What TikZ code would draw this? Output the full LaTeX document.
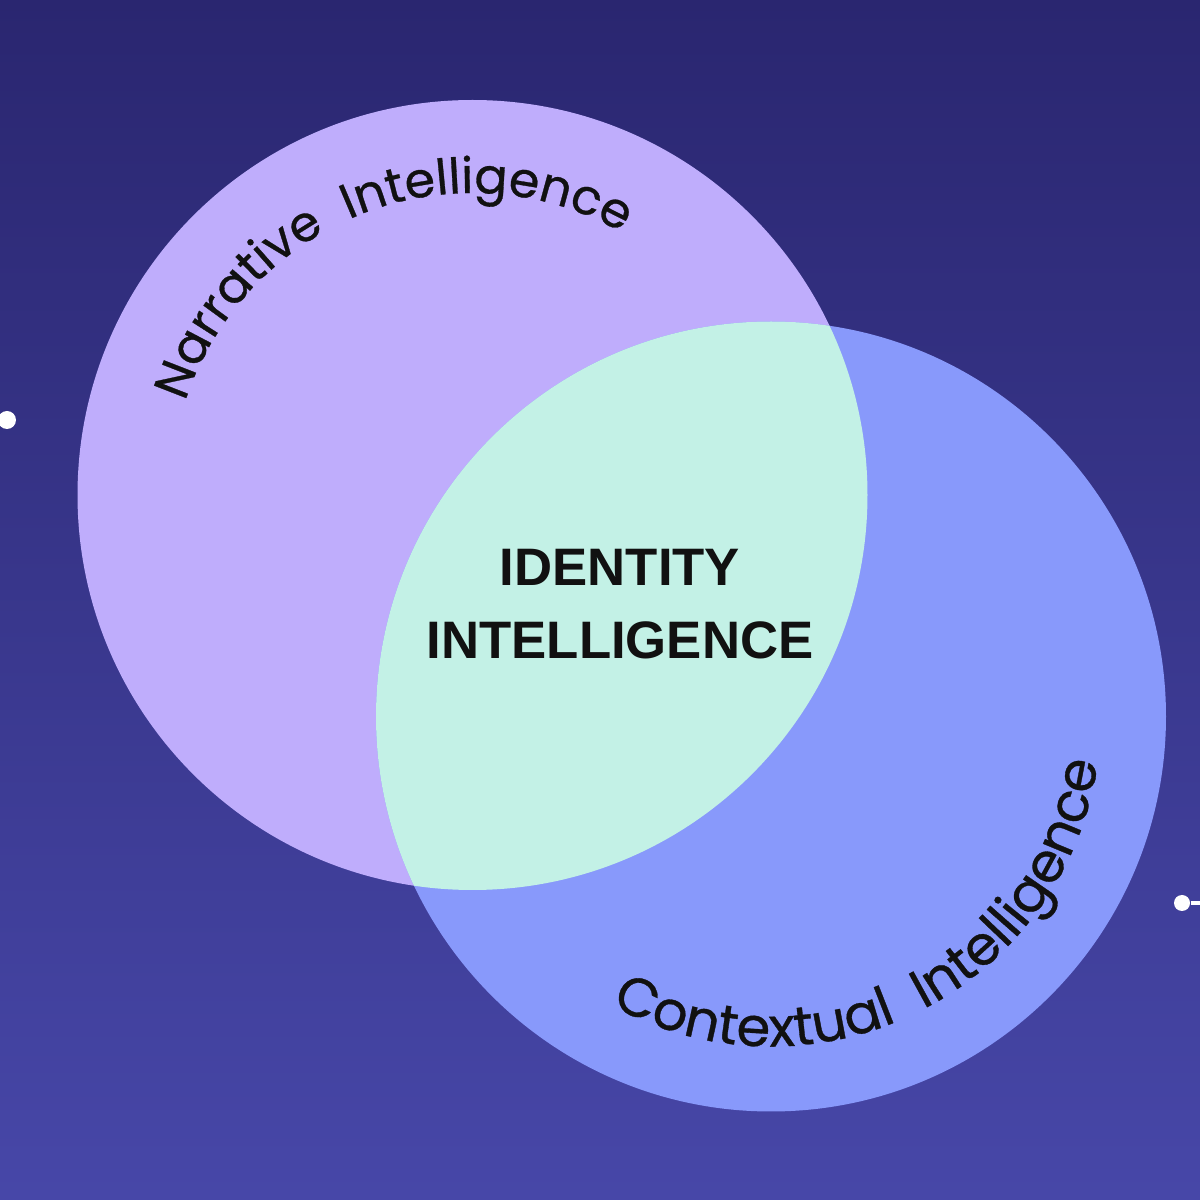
\documentclass[tikz,border=0pt]{standalone}
\usepackage{fontspec}
\setmainfont{Liberation Sans}
\newfontfamily\arcfont[FakeBold=0.6]{Poppins}
\usepackage{tikz}
\usetikzlibrary{decorations.text}
\usepackage{xcolor}
\definecolor{bgtop}{HTML}{2A2670}
\definecolor{bgbot}{HTML}{4747A8}
\definecolor{narrfill}{HTML}{BFADFC}
\definecolor{ctxfill}{HTML}{8899FB}
\definecolor{corefill}{HTML}{C3F1E6}
\definecolor{ink}{HTML}{111111}

\begin{document}
\begin{tikzpicture}[
    dot/.style={circle, fill=white, inner sep=0pt, minimum size=1.7mm},
    arclabel/.style 2 args={decorate, decoration={text along path, text align={fit to path}, text color=ink,
        text={|\arcfont\fontsize{#1}{16}\selectfont|#2}}}
]
    \useasboundingbox (0,0) rectangle (12,12);
    % Background
    \shade[top color=bgtop, bottom color=bgbot] (0,0) rectangle (12,12);

    % Circle centres
    \coordinate (narr) at (4.725, 7.05);
    \coordinate (ctx) at (7.71, 4.835);

    % Circles and their overlap
    \fill[narrfill] (narr) circle (3.95);
    \fill[ctxfill] (ctx) circle (3.95);
    \begin{scope}
        \clip (narr) circle (3.95);
        \fill[corefill] (ctx) circle (3.95);
    \end{scope}

    % Curved labels
    \path (narr) ++(162:3.02) coordinate (narrStart);
    \path (ctx) ++(241:3.3) coordinate (ctxStart);
    \path[arclabel={14}{Narrative~ Intelligence}] (narrStart) arc[start angle=162, end angle=61, radius=3.02];
    \path[arclabel={15.5}{Contextual~ Intelligence}] (ctxStart) arc[start angle=241, end angle=350, radius=3.3];

    % Overlap label
    \node[font=\bfseries\fontsize{15}{20.8}\selectfont, text=ink, align=center] (core) at (6.2, 5.96)
        {IDENTITY\\INTELLIGENCE};

    % Edge dots
    \node[dot, minimum size=1.8mm] (dotL) at (0.07, 7.80) {};
    \node[dot, minimum size=1.6mm] (dotR) at (11.82, 2.97) {};
    \coordinate (dotRtail) at (12.3, 2.97);
    \draw[white, line width=0.9pt] (dotR) -- (dotRtail);
\end{tikzpicture}
\end{document}
